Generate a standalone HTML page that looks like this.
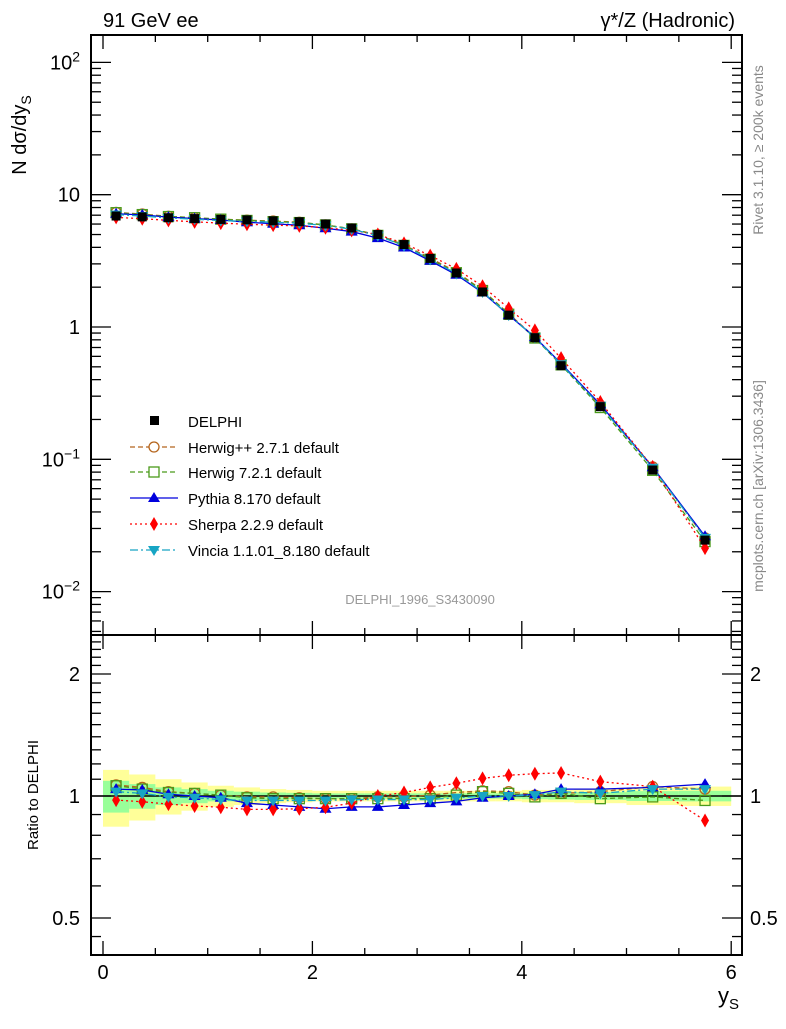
<!DOCTYPE html>
<html><head><meta charset="utf-8"><style>
body{margin:0;background:#fff;}
svg{font-family:"Liberation Sans",sans-serif;}
</style></head><body>
<svg id="c" width="786" height="1024" xmlns="http://www.w3.org/2000/svg"></svg>
<script>
const xs=[0.125,0.375,0.625,0.875,1.125,1.375,1.625,1.875,2.125,2.375,2.625,2.875,3.125,3.375,3.625,3.875,4.125,4.375,4.75,5.25,5.75];
const xlo=[0,0.25,0.5,0.75,1,1.25,1.5,1.75,2,2.25,2.5,2.75,3,3.25,3.5,3.75,4,4.25,4.5,5,5.5];
const xhi=[0.25,0.5,0.75,1,1.25,1.5,1.75,2,2.25,2.5,2.75,3,3.25,3.5,3.75,4,4.25,4.5,5,5.5,6];
const delphi=[6.9,6.8,6.7,6.6,6.5,6.45,6.35,6.25,6.0,5.6,5.0,4.2,3.3,2.56,1.84,1.23,0.83,0.51,0.25,0.083,0.0245];
const errY=[0.16,0.13,0.10,0.08,0.06,0.05,0.04,0.035,0.03,0.03,0.03,0.03,0.03,0.03,0.03,0.03,0.035,0.035,0.04,0.05,0.055];
const errG=[0.09,0.07,0.05,0.04,0.03,0.025,0.02,0.018,0.015,0.015,0.015,0.015,0.015,0.015,0.015,0.015,0.018,0.02,0.022,0.028,0.03];
const rHpp=[1.065,1.05,1.025,1.015,1.005,0.995,0.995,0.99,0.985,0.985,0.995,0.995,1.005,1.02,1.03,1.025,1.005,1.015,1.025,1.055,1.04];
const rH7=[1.06,1.04,1.02,1.015,1.005,0.99,0.985,0.985,0.985,0.985,0.985,0.985,0.985,1.005,1.025,1.015,0.995,1.015,0.985,0.995,0.975];
const rPy=[1.04,1.035,1.01,1.0,0.99,0.96,0.95,0.94,0.93,0.94,0.94,0.95,0.96,0.97,0.99,1.0,1.01,1.04,1.04,1.05,1.07];
const rSh=[0.977,0.968,0.955,0.945,0.938,0.927,0.927,0.93,0.938,0.96,1.0,1.02,1.05,1.075,1.105,1.125,1.135,1.14,1.085,1.055,0.87];
const rVi=[1.025,1.015,0.995,0.99,0.98,0.975,0.975,0.975,0.975,0.98,0.98,0.98,0.98,0.99,1.0,1.0,1.005,1.025,1.015,1.04,1.04];
const mainTicks=[0.01,0.1,1,10,100];

const S=document.getElementById('c');
const NS='http://www.w3.org/2000/svg';
function el(t,a,p){const e=document.createElementNS(NS,t);for(const k in a)e.setAttribute(k,a[k]);(p||S).appendChild(e);return e;}
const L=91,R=742,T=35,M=635,B=955;
const X=v=>103+v*104.7;
const Y=v=>327-Math.log10(v)*132.3;
const YR=v=>796-Math.log2(v)*122;

for(let i=0;i<xs.length;i++){
 let b=el('rect',{x:X(xlo[i]),y:YR(1+errY[i]),width:X(xhi[i])-X(xlo[i]),height:YR(1-errY[i])-YR(1+errY[i]),fill:'#ffff99'});
 
 
}
for(let i=0;i<xs.length;i++){
 let b=el('rect',{x:X(xlo[i]),y:YR(1+errG[i]),width:X(xhi[i])-X(xlo[i]),height:YR(1-errG[i])-YR(1+errG[i]),fill:'#99ff99'});
 
 
}
el('line',{x1:L,x2:R,y1:YR(1),y2:YR(1),stroke:'#000','stroke-width':1.5});

function marker(type,x,y,col,g){
 let m;
 if(type=='sq')m=el('rect',{x:x-4.5,y:y-4.5,width:9,height:9,fill:'#000'},g);
 else if(type=='circ')m=el('circle',{cx:x,cy:y,r:5,fill:'none',stroke:col,'stroke-width':1.3},g);
 else if(type=='osq')m=el('rect',{x:x-5,y:y-5,width:10,height:10,fill:'none',stroke:col,'stroke-width':1.3},g);
 else if(type=='tri')m=el('polygon',{points:`${x},${y-6} ${x-6},${y+4} ${x+6},${y+4}`,fill:col},g);
 else if(type=='dia')m=el('polygon',{points:`${x},${y-7} ${x-4},${y} ${x},${y+7} ${x+4},${y}`,fill:col},g);
 else if(type=='itri')m=el('polygon',{points:`${x},${y+6} ${x-6},${y-4} ${x+6},${y-4}`,fill:col},g);
 return m;
}
const series=[
 {n:'herwigpp',r:rHpp,c:'#b5651d',d:'5,3',m:'circ'},
 {n:'herwig7',r:rH7,c:'#4a9a1a',d:'5,3',m:'osq'},
 {n:'pythia',r:rPy,c:'#0000dd',d:'',m:'tri'},
 {n:'sherpa',r:rSh,c:'#ff0000',d:'2,3',m:'dia'},
 {n:'vincia',r:rVi,c:'#17a5c4',d:'8,3,2,3',m:'itri'}
];
series.forEach(s=>{
 const g=el('g',{});
 
 
 const pm=xs.map((x,i)=>X(x)+','+Y(delphi[i]*s.r[i])).join(' ');
 el('polyline',{points:pm,fill:'none',stroke:s.c,'stroke-width':1.3,'stroke-dasharray':s.d},g);
 const pr=xs.map((x,i)=>X(x)+','+YR(s.r[i])).join(' ');
 el('polyline',{points:pr,fill:'none',stroke:s.c,'stroke-width':1.3,'stroke-dasharray':s.d},g);
 xs.forEach((x,i)=>{
  const m1=marker(s.m,X(x),Y(delphi[i]*s.r[i]),s.c,g);
  
  
  const m2=marker(s.m,X(x),YR(s.r[i]),s.c,g);
  
  
 });
});
xs.forEach((x,i)=>{
 const m=marker('sq',X(x),Y(delphi[i]),'#000');
 
 
});

el('rect',{x:L,y:T,width:R-L,height:M-T,fill:'none',stroke:'#000','stroke-width':2});
el('rect',{x:L,y:M,width:R-L,height:B-M,fill:'none',stroke:'#000','stroke-width':2});
for(let v=0;v<=6.01;v+=0.5){
 const big=Math.abs(v%2)<0.01, len=big?14:7;
 [M,B].forEach(yb=>el('line',{x1:X(v),x2:X(v),y1:yb,y2:yb-len,stroke:'#000','stroke-width':1.3}));
 el('line',{x1:X(v),x2:X(v),y1:T,y2:T+len,stroke:'#000','stroke-width':1.3});
 el('line',{x1:X(v),x2:X(v),y1:M,y2:M+len,stroke:'#000','stroke-width':1.3});
}
[0,2,4,6].forEach(v=>{const t=el('text',{x:X(v),y:979,'font-size':20,'text-anchor':'middle'});t.textContent=v;});
for(let d=-3;d<=2;d++)for(let k=1;k<=9;k++){
 const v=k*Math.pow(10,d),y=Y(v);
 if(y<T||y>M)continue;
 const len=k==1?20:10;
 el('line',{x1:L,x2:L+len,y1:y,y2:y,stroke:'#000','stroke-width':1.3});
 el('line',{x1:R,x2:R-len,y1:y,y2:y,stroke:'#000','stroke-width':1.3});
}
const mlab=['10<tspan dy="-8" font-size="14">−2</tspan>','10<tspan dy="-8" font-size="14">−1</tspan>','1','10','10<tspan dy="-8" font-size="14">2</tspan>'];
mainTicks.forEach((v,i)=>{const t=el('text',{x:80,y:Y(v)+7,'font-size':20,'text-anchor':'end'});t.innerHTML=mlab[i];});
for(let k=5;k<=24;k++){
 const v=k/10,y=YR(v);
 if(y<M||y>B)continue;
 const len=(k==5||k==10||k==20)?20:10;
 el('line',{x1:L,x2:L+len,y1:y,y2:y,stroke:'#000','stroke-width':1.3});
 el('line',{x1:R,x2:R-len,y1:y,y2:y,stroke:'#000','stroke-width':1.3});
}
{const y=YR(0.45);el('line',{x1:L,x2:L+10,y1:y,y2:y,stroke:'#000','stroke-width':1.3});el('line',{x1:R,x2:R-10,y1:y,y2:y,stroke:'#000','stroke-width':1.3});}
[[0.5,'0.5'],[1,'1'],[2,'2']].forEach(([v,s])=>{
 let t=el('text',{x:80,y:YR(v)+7,'font-size':20,'text-anchor':'end'});t.textContent=s;
 t=el('text',{x:750,y:YR(v)+7,'font-size':20});t.textContent=s;
});
</script>
<svg width="786" height="1024" style="position:absolute;left:0;top:0" xmlns="http://www.w3.org/2000/svg">
<text x="103" y="27" font-size="20">91 GeV ee</text>
<text x="735" y="27" font-size="20" text-anchor="end">γ*/Z (Hadronic)</text>
<text transform="translate(26,135) rotate(-90)" font-size="20" text-anchor="middle">N dσ/dy<tspan font-size="14" dy="5">S</tspan></text>
<text transform="translate(38,795) rotate(-90)" font-size="15" text-anchor="middle">Ratio to DELPHI</text>
<text x="718" y="1003" font-size="22">y<tspan font-size="15" dy="6">S</tspan></text>
<text x="420" y="604" font-size="13" fill="#999" text-anchor="middle">DELPHI_1996_S3430090</text>
<text transform="translate(763,150) rotate(-90)" font-size="14" fill="#888" text-anchor="middle">Rivet 3.1.10, ≥ 200k events</text>
<text transform="translate(763,486) rotate(-90)" font-size="14" fill="#888" text-anchor="middle">mcplots.cern.ch [arXiv:1306.3436]</text>
<g font-size="15">
<rect x="150" y="416" width="9" height="9" fill="#000"/><text x="188" y="427">DELPHI</text>
<line x1="130" x2="178" y1="447" y2="447" stroke="#b5651d" stroke-width="1.3" stroke-dasharray="5,3"/><circle cx="154" cy="447" r="5" fill="#fff" stroke="#b5651d" stroke-width="1.3"/><text x="188" y="453">Herwig++ 2.7.1 default</text>
<line x1="130" x2="178" y1="472" y2="472" stroke="#4a9a1a" stroke-width="1.3" stroke-dasharray="5,3"/><rect x="149" y="467" width="10" height="10" fill="#fff" stroke="#4a9a1a" stroke-width="1.3"/><text x="188" y="478">Herwig 7.2.1 default</text>
<line x1="130" x2="178" y1="498" y2="498" stroke="#0000dd" stroke-width="1.3"/><polygon points="154,492 148,502 160,502" fill="#0000dd"/><text x="188" y="504">Pythia 8.170 default</text>
<line x1="130" x2="178" y1="524" y2="524" stroke="#ff0000" stroke-width="1.3" stroke-dasharray="2,3"/><polygon points="154,517 150,524 154,531 158,524" fill="#ff0000"/><text x="188" y="530">Sherpa 2.2.9 default</text>
<line x1="130" x2="178" y1="550" y2="550" stroke="#17a5c4" stroke-width="1.3" stroke-dasharray="8,3,2,3"/><polygon points="154,556 148,546 160,546" fill="#17a5c4"/><text x="188" y="556">Vincia 1.1.01_8.180 default</text>
</g>
</svg>
</body></html>
